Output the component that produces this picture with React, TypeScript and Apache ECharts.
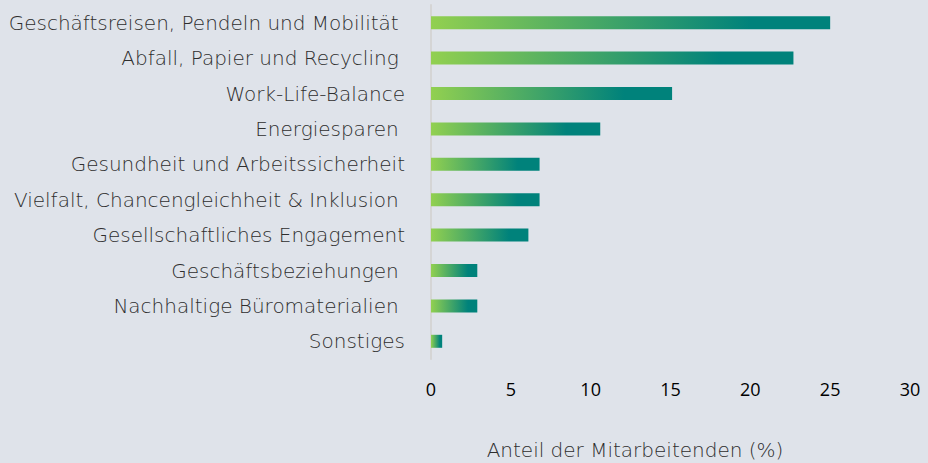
import React, { useEffect, useRef } from "react";
import * as echarts from "echarts";

const categories = [
  "Geschäftsreisen, Pendeln und Mobilität ",
  "Abfall, Papier und Recycling ",
  "Work-Life-Balance",
  "Energiesparen ",
  "Gesundheit und Arbeitssicherheit",
  "Vielfalt, Chancengleichheit & Inklusion ",
  "Gesellschaftliches Engagement",
  "Geschäftsbeziehungen ",
  "Nachhaltige Büromaterialien ",
  "Sonstiges",
];
const values = [25.0, 22.7, 15.1, 10.6, 6.8, 6.8, 6.1, 2.9, 2.9, 0.7];
const axisName = "Anteil der Mitarbeitenden (%)";

export default function App() {
  const ref = useRef<HTMLDivElement>(null);
  useEffect(() => {
    if (!ref.current) return;
    const chart = echarts.init(ref.current, null, { renderer: "svg" });
    const grad = new echarts.graphic.LinearGradient(0, 0, 1, 0, [
      { offset: 0, color: "#92d050" },
      { offset: 0.8, color: "#00827b" },
      { offset: 1, color: "#00827b" },
    ]);
    chart.setOption({
      animation: false,
      backgroundColor: "#dfe3ea",
      grid: { left: 431, right: 18, top: 5, bottom: 104, containLabel: false },
      xAxis: {
        type: "value",
        min: 0,
        max: 30,
        interval: 5,
        splitLine: { show: false },
        axisLine: { show: false },
        axisTick: { show: false },
        axisLabel: {
          color: "#000000",
          fontFamily: "Open Sans",
          fontSize: 18,
          margin: 21,
        },
      },
      yAxis: {
        type: "category",
        data: categories,
        inverse: true,
        axisTick: { show: false },
        axisLine: { show: true, lineStyle: { color: "#d5d5d5", width: 2 } },
        axisLabel: {
          color: "#2e2e2e",
          fontFamily: "DejaVu Sans",
          fontWeight: 200,
          fontSize: 20,
          margin: 26,
        },
      },
      graphic: [
        {
          type: "text",
          x: 635,
          y: 450,
          style: {
            text: axisName,
            fill: "#2e2e2e",
            font: "200 20px 'DejaVu Sans'",
            textAlign: "center",
            textVerticalAlign: "middle",
          },
        },
      ],
      series: [
        {
          type: "bar",
          data: values,
          barWidth: 13,
          itemStyle: { color: grad },
        },
      ],
    });
    return () => chart.dispose();
  }, []);
  return (
    <div
      ref={ref}
      style={{ position: "fixed", left: 0, top: 0, width: 928, height: 463 }}
    />
  );
}
